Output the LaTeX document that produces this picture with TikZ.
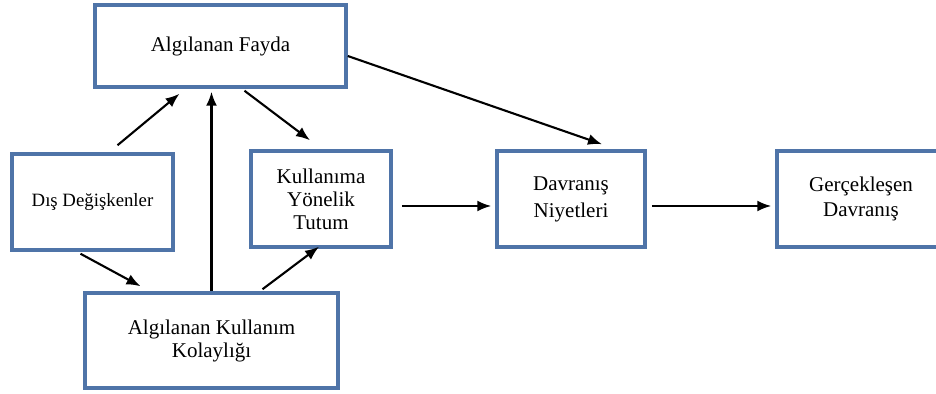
\documentclass[tikz,border=0pt]{standalone}
\usepackage{fontspec}
\setmainfont{Liberation Serif}
\usetikzlibrary{arrows.meta,calc}
\definecolor{boxblue}{RGB}{79,116,168}

\begin{document}
\begin{tikzpicture}[x=0.5pt,y=-0.5pt,
  box/.style={draw=boxblue,line width=1.75pt,fill=white,align=center,
    font=\fontsize{10.5}{11.5}\selectfont,inner sep=0pt},
  arr/.style={line width=1.05pt,-{Latex[length=7pt,width=5.5pt]}}]
\useasboundingbox (0,0) rectangle (936,394);
\node [box,minimum width=125.5pt,minimum height=41pt] (fayda) at (220.5,46) {Algılanan Fayda};
\node [box,minimum width=80.5pt,minimum height=48pt,font=\fontsize{9.4}{11}\selectfont] (dis) at (92.5,202) {Dış Değişkenler};
\node [box,minimum width=70pt,minimum height=48pt] (tutum) at (321,199) {Kullanıma\\Yönelik\\Tutum};
\node [box,minimum width=126.5pt,minimum height=47.5pt] (kolay) at (211.5,340.5) {Algılanan Kullanım\\Kolaylığı};
\node [box,minimum width=74pt,minimum height=48pt,font=\fontsize{10.5}{13.5}\selectfont] (niyet) at (571,199) {Davranış\\Niyetleri};
\node [box,minimum width=84pt,minimum height=48pt,font=\fontsize{10.5}{12.5}\selectfont] (gercek) at (861,199) {Gerçekleşen\\Davranış};
% oklar
\draw [arr] ($(dis.north)+(25,-7)$) -- ($(fayda.south)+(-41,5)$);
\draw [arr] (kolay.north) -- ($(fayda.south)+(-9,3)$);
\draw [arr] ($(fayda.south)+(24,2)$) -- ($(tutum.north)+(-11,-9)$);
\draw [arr] ($(dis.south)+(-12,2)$) -- ($(kolay.north)+(-71,-5)$);
\draw [arr] ($(kolay.north)+(51,-2)$) -- ($(tutum.south)+(-2,-2)$);
\draw [arr] ($(tutum.east)+(9,7)$) -- ($(niyet.west)+(-4,7)$);
\draw [arr] ($(fayda.east)+(0,10)$) -- ($(niyet.north)+(31,-5)$);
\draw [arr] ($(niyet.east)+(5,7)$) -- ($(gercek.west)+(-4,7)$);
\end{tikzpicture}
\end{document}
